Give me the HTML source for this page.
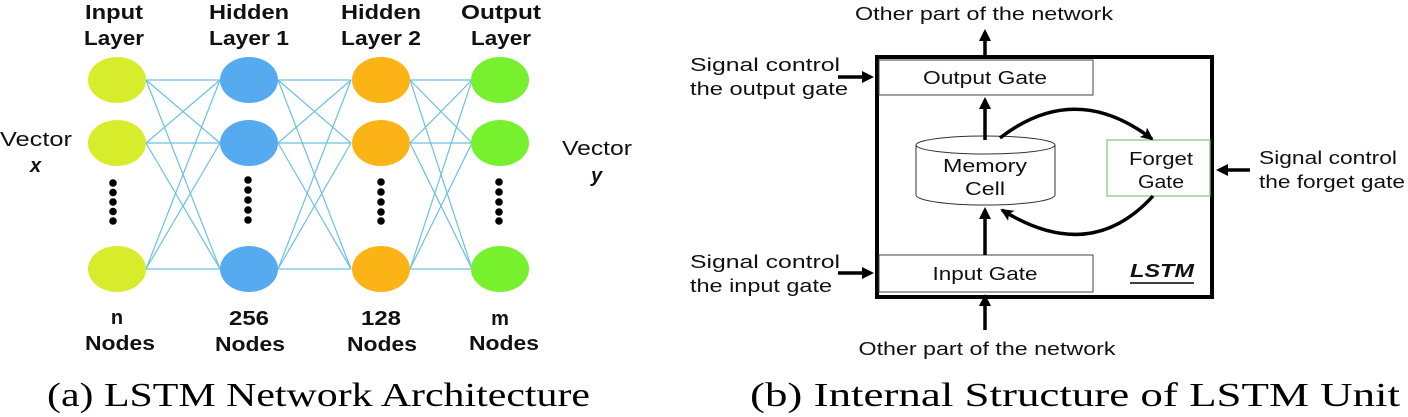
<!DOCTYPE html>
<html><head><style>
html,body{margin:0;padding:0;background:#fff;}
svg{display:block;}
</style></head><body>
<svg width="1408" height="417" viewBox="0 0 1408 417" xmlns="http://www.w3.org/2000/svg" font-family="Liberation Sans, sans-serif">
<defs>
<marker id="ah" markerWidth="12" markerHeight="12" refX="9" refY="6" orient="auto" markerUnits="userSpaceOnUse">
<path d="M0,0 L12,6 L0,12 z" fill="#000"/>
</marker>
<marker id="ah2" markerWidth="14" markerHeight="12" refX="11" refY="6" orient="auto" markerUnits="userSpaceOnUse">
<path d="M0,0 L13,6 L0,12 L3,6 z" fill="#000"/>
</marker>
</defs>
<g stroke="#6cc0e4" stroke-width="1.2">
<line x1="146" y1="80" x2="220" y2="80"/><line x1="146" y1="80" x2="220" y2="143"/><line x1="146" y1="80" x2="220" y2="269"/>
<line x1="146" y1="143" x2="220" y2="80"/><line x1="146" y1="143" x2="220" y2="143"/><line x1="146" y1="143" x2="220" y2="269"/>
<line x1="146" y1="269" x2="220" y2="80"/><line x1="146" y1="269" x2="220" y2="143"/><line x1="146" y1="269" x2="220" y2="269"/>
<line x1="278" y1="80" x2="351" y2="80"/><line x1="278" y1="80" x2="351" y2="143"/><line x1="278" y1="80" x2="351" y2="269"/>
<line x1="278" y1="143" x2="351" y2="80"/><line x1="278" y1="143" x2="351" y2="143"/><line x1="278" y1="143" x2="351" y2="269"/>
<line x1="278" y1="269" x2="351" y2="80"/><line x1="278" y1="269" x2="351" y2="143"/><line x1="278" y1="269" x2="351" y2="269"/>
<line x1="410" y1="80" x2="472" y2="80"/><line x1="410" y1="80" x2="472" y2="143"/><line x1="410" y1="80" x2="472" y2="269"/>
<line x1="410" y1="143" x2="472" y2="80"/><line x1="410" y1="143" x2="472" y2="143"/><line x1="410" y1="143" x2="472" y2="269"/>
<line x1="410" y1="269" x2="472" y2="80"/><line x1="410" y1="269" x2="472" y2="143"/><line x1="410" y1="269" x2="472" y2="269"/>
</g>
<g>
<ellipse cx="117" cy="80" rx="29" ry="23" fill="#d7ec2a"/><ellipse cx="117" cy="143" rx="29" ry="23" fill="#d7ec2a"/><ellipse cx="117" cy="269" rx="29" ry="23" fill="#d7ec2a"/>
<ellipse cx="249" cy="80" rx="29" ry="23" fill="#55aaf0"/><ellipse cx="249" cy="143" rx="29" ry="23" fill="#55aaf0"/><ellipse cx="249" cy="269" rx="29" ry="23" fill="#55aaf0"/>
<ellipse cx="381" cy="80" rx="29" ry="23" fill="#fbb316"/><ellipse cx="381" cy="143" rx="29" ry="23" fill="#fbb316"/><ellipse cx="381" cy="269" rx="29" ry="23" fill="#fbb316"/>
<ellipse cx="500" cy="80" rx="29" ry="23" fill="#77f02e"/><ellipse cx="500" cy="143" rx="29" ry="23" fill="#77f02e"/><ellipse cx="500" cy="269" rx="29" ry="23" fill="#77f02e"/>
</g>
<g fill="#000">
<circle cx="113" cy="183" r="3.8"/><circle cx="113" cy="192.5" r="3.8"/><circle cx="113" cy="202" r="3.8"/><circle cx="113" cy="211.5" r="3.8"/><circle cx="113" cy="221" r="3.8"/>
<circle cx="248" cy="180" r="3.8"/><circle cx="248" cy="190" r="3.8"/><circle cx="248" cy="200" r="3.8"/><circle cx="248" cy="210" r="3.8"/><circle cx="248" cy="220" r="3.8"/>
<circle cx="381" cy="182" r="3.8"/><circle cx="381" cy="192" r="3.8"/><circle cx="381" cy="202" r="3.8"/><circle cx="381" cy="212" r="3.8"/><circle cx="381" cy="221" r="3.8"/>
<circle cx="499" cy="182" r="3.8"/><circle cx="499" cy="192" r="3.8"/><circle cx="499" cy="202" r="3.8"/><circle cx="499" cy="212" r="3.8"/><circle cx="499" cy="221" r="3.8"/>
</g>
<g font-weight="bold" font-size="20" text-anchor="middle" fill="#111">
<text x="114" y="19" textLength="58" lengthAdjust="spacingAndGlyphs">Input</text><text x="114" y="45" textLength="60" lengthAdjust="spacingAndGlyphs">Layer</text>
<text x="249" y="19" textLength="80" lengthAdjust="spacingAndGlyphs">Hidden</text><text x="249" y="45" textLength="80" lengthAdjust="spacingAndGlyphs">Layer 1</text>
<text x="381" y="19" textLength="80" lengthAdjust="spacingAndGlyphs">Hidden</text><text x="381" y="45" textLength="80" lengthAdjust="spacingAndGlyphs">Layer 2</text>
<text x="501" y="19" textLength="80" lengthAdjust="spacingAndGlyphs">Output</text><text x="501" y="45" textLength="60" lengthAdjust="spacingAndGlyphs">Layer</text>
<text x="117" y="324">n</text><text x="120" y="350" textLength="70" lengthAdjust="spacingAndGlyphs">Nodes</text>
<text x="249" y="325" textLength="40" lengthAdjust="spacingAndGlyphs">256</text><text x="250" y="351" textLength="70" lengthAdjust="spacingAndGlyphs">Nodes</text>
<text x="381" y="325" textLength="40" lengthAdjust="spacingAndGlyphs">128</text><text x="382" y="351" textLength="70" lengthAdjust="spacingAndGlyphs">Nodes</text>
<text x="500" y="325">m</text><text x="504" y="350" textLength="70" lengthAdjust="spacingAndGlyphs">Nodes</text>
</g>
<g font-size="20" fill="#111">
<text x="0" y="146" textLength="72" lengthAdjust="spacingAndGlyphs">Vector</text>
<text x="30" y="172" font-weight="bold" font-style="italic">x</text>
<text x="562" y="155" textLength="70" lengthAdjust="spacingAndGlyphs">Vector</text>
<text x="591" y="182" font-weight="bold" font-style="italic">y</text>
</g>
<rect x="877" y="57" width="335" height="240" fill="none" stroke="#000" stroke-width="4"/>
<rect x="879" y="60" width="214" height="35" fill="none" stroke="#444" stroke-width="1"/>
<rect x="879" y="255" width="214" height="37" fill="none" stroke="#444" stroke-width="1"/>
<rect x="1107" y="140" width="103" height="56" fill="none" stroke="#7cc47a" stroke-width="1.2"/>
<path d="M916,145 A69.5,9 0 0 1 1055,145 L1055,195 A69.5,10 0 0 1 916,195 Z" fill="#fff" stroke="#333" stroke-width="1"/>
<path d="M916,145 A69.5,9 0 0 0 1055,145" fill="none" stroke="#333" stroke-width="1"/>
<g font-size="18" fill="#111">
<text x="984" y="20" text-anchor="middle" textLength="258" lengthAdjust="spacingAndGlyphs">Other part of the network</text>
<text x="987" y="355" text-anchor="middle" textLength="257" lengthAdjust="spacingAndGlyphs">Other part of the network</text>
<text x="690" y="71" textLength="150" lengthAdjust="spacingAndGlyphs">Signal control</text>
<text x="690" y="95" textLength="158" lengthAdjust="spacingAndGlyphs">the output gate</text>
<text x="690" y="268" textLength="150" lengthAdjust="spacingAndGlyphs">Signal control</text>
<text x="690" y="292" textLength="142" lengthAdjust="spacingAndGlyphs">the input gate</text>
<text x="1259" y="164" textLength="138" lengthAdjust="spacingAndGlyphs">Signal control</text>
<text x="1259" y="188" textLength="146" lengthAdjust="spacingAndGlyphs">the forget gate</text>
<text x="985" y="84" text-anchor="middle" textLength="124" lengthAdjust="spacingAndGlyphs">Output Gate</text>
<text x="985" y="280" text-anchor="middle" textLength="105" lengthAdjust="spacingAndGlyphs">Input Gate</text>
<text x="985" y="172" text-anchor="middle" textLength="84" lengthAdjust="spacingAndGlyphs">Memory</text>
<text x="985" y="195" text-anchor="middle" textLength="40" lengthAdjust="spacingAndGlyphs">Cell</text>
<text x="1161" y="165" text-anchor="middle" textLength="64" lengthAdjust="spacingAndGlyphs">Forget</text>
<text x="1161" y="188" text-anchor="middle" textLength="46" lengthAdjust="spacingAndGlyphs">Gate</text>
<text x="1130" y="277" font-weight="bold" font-style="italic" textLength="64" lengthAdjust="spacingAndGlyphs">LSTM</text>
</g>
<line x1="1130" y1="283" x2="1194" y2="283" stroke="#000" stroke-width="1.5"/>
<g stroke="#000" stroke-width="3.5" fill="none">
<line x1="985" y1="55" x2="985" y2="32" marker-end="url(#ah)"/>
<line x1="985" y1="330" x2="985" y2="297" marker-end="url(#ah)"/>
<line x1="985" y1="140" x2="985" y2="100" marker-end="url(#ah)"/>
<line x1="985" y1="255" x2="985" y2="210" marker-end="url(#ah)"/>
<line x1="838" y1="77" x2="871" y2="77" marker-end="url(#ah)"/>
<line x1="838" y1="273" x2="871" y2="273" marker-end="url(#ah)"/>
<line x1="1250" y1="170" x2="1219" y2="170" marker-end="url(#ah)"/>
<path d="M1000,138 Q1075,80 1152,139" marker-end="url(#ah2)"/>
<path d="M1153,196 Q1090,265 1002,210" marker-end="url(#ah2)"/>
</g>
<g font-size="34" fill="#000" style="font-family:'Liberation Serif',serif">
<text x="47" y="406" textLength="543" lengthAdjust="spacingAndGlyphs" style="font-family:'Liberation Serif',serif">(a) LSTM Network Architecture</text>
<text x="750" y="406" textLength="650" lengthAdjust="spacingAndGlyphs" style="font-family:'Liberation Serif',serif">(b) Internal Structure of LSTM Unit</text>
</g>
</svg>
</body></html>
